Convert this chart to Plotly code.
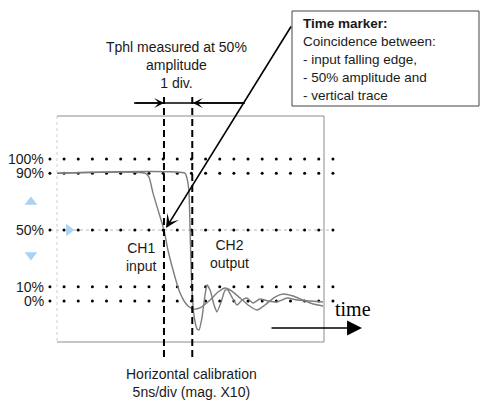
import plotly.graph_objects as go

# ---------------- data (x in divisions, y in % amplitude) ----------------
level_values = [100, 90, 50, 10, 0]
level_labels = ["100%", "90%", "50%", "10%", "0%"]
grid_dot_x = [-0.25, 0.25, 0.75, 1.25, 1.75, 2.25, 2.75, 3.25, 3.75, 4.25, 4.75,
              5.25, 5.75, 6.25, 6.75, 7.25, 7.75, 8.25, 8.75, 9.25, 9.75]

ch1_x = [0.00, 3.11, 3.25, 3.39, 3.57, 3.78, 3.92, 4.10, 4.24, 4.35, 4.49, 4.63, 4.81,
         5.05, 5.41, 5.69, 5.94, 6.18, 6.47, 6.75, 7.07, 7.35, 7.70, 7.99, 8.34, 8.69,
         9.05, 9.40]
ch1_y = [90, 90, 87.3, 76.1, 64.1, 50.0, 35.9, 21.8, 12.0, 5.6, 0.0, -3.5, -5.6,
         -4.9, 0.7, 6.3, 9.2, 7.0, 2.1, -2.8, -6.3, -2.8, 2.8, 4.9, 3.5, 0.7,
         -2.1, -3.5]

ch2_x = [0.00, 4.52, 4.59, 4.66, 4.70, 4.73, 4.77, 4.84, 4.95, 5.02, 5.12, 5.23, 5.30,
         5.41, 5.55, 5.65, 5.80, 5.94, 6.04, 6.18, 6.36, 6.54, 6.71, 6.93, 7.17, 7.46,
         7.77, 8.13, 8.48, 8.94, 9.40]
ch2_y = [90, 90, 86.6, 78.2, 52.1, 28.9, 7.7, -9.9, -19.7, -20.4, -12.0, 4.2, 11.3,
         7.7, -2.8, -7.7, -0.7, 7.7, 7.7, 2.8, -2.8, 0.7, 2.1, -1.4, 1.4, 0.0,
         -0.7, 2.1, 0.7, 0.0, -0.7]

marker_x = [-0.92, -0.92, 0.42]
marker_y = [69.7, 32.4, 50.0]
marker_symbols = ["triangle-up", "triangle-down", "triangle-right"]

time_marker_x = [3.78, 4.78]       # the two vertical dashed cursors (1 div apart)

# ---------------- geometry helpers (pixel -> axis units, layout only) ----------------
PX_DIV = 28.3
PX_PCT = 1.42
X0PX, Y0PX = 57, 301


def X(px):
    return (px - X0PX) / PX_DIV


def Y(py):
    return (Y0PX - py) / PX_PCT


FONT = "Liberation Sans, Arial, sans-serif"
TXT = "#1a1a1a"
TRACE = "#7d7d7d"

fig = go.Figure()

# faint dotted 50% line
fig.add_trace(go.Scatter(x=[X(50), X(333)], y=[50, 50], mode="lines",
                         line=dict(color="#b8b8b8", width=1, dash="dot"),
                         hoverinfo="skip"))

# dotted level lines
for lv in level_values:
    fig.add_trace(go.Scatter(x=grid_dot_x, y=[lv] * len(grid_dot_x), mode="markers",
                             marker=dict(color="black", size=3), hoverinfo="skip"))

# traces
fig.add_trace(go.Scatter(x=ch1_x, y=ch1_y, mode="lines",
                         line=dict(color=TRACE, width=1.4, shape="spline", smoothing=0.6)))
fig.add_trace(go.Scatter(x=ch2_x, y=ch2_y, mode="lines",
                         line=dict(color=TRACE, width=1.4, shape="spline", smoothing=0.5)))

# blue scope markers
fig.add_trace(go.Scatter(x=marker_x, y=marker_y, mode="markers",
                         marker=dict(color="#a9d2f5", size=11, symbol=marker_symbols),
                         hoverinfo="skip"))

shapes = []
# scope screen frame
frame_col = "#8c8c8c"
shapes.append(dict(type="line", x0=0, x1=X(324), y0=Y(116), y1=Y(116),
                   line=dict(color=frame_col, width=1)))
shapes.append(dict(type="line", x0=0, x1=X(324), y0=Y(342), y1=Y(342),
                   line=dict(color=frame_col, width=1)))
shapes.append(dict(type="line", x0=X(324), x1=X(324), y0=Y(116), y1=Y(342),
                   line=dict(color=frame_col, width=1)))
shapes.append(dict(type="line", x0=0, x1=0, y0=Y(116), y1=Y(342),
                   line=dict(color="#cfcfcf", width=1, dash="dot")))

# vertical dashed cursors
for tx in time_marker_x:
    shapes.append(dict(type="line", x0=tx, x1=tx, y0=Y(97), y1=Y(358),
                       line=dict(color="black", width=2, dash="7px,4px")))

# horizontal dimension line
shapes.append(dict(type="line", x0=X(134), x1=X(245), y0=Y(103), y1=Y(103),
                   line=dict(color="black", width=1.5)))

# time-marker text box
shapes.append(dict(type="rect", x0=X(292), x1=X(479), y0=Y(11), y1=Y(106),
                   line=dict(color="#444444", width=1), fillcolor="white"))

annotations = []

# level labels
for lv, lab in zip(level_values, level_labels):
    annotations.append(dict(x=X(46), y=lv, text=lab, showarrow=False, xanchor="right",
                            yanchor="middle", font=dict(family=FONT, size=14, color=TXT)))

# arrows
annotations.append(dict(x=time_marker_x[0], y=Y(103), ax=X(134), ay=Y(103),
                        axref="x", ayref="y", xref="x", yref="y", text="", showarrow=True,
                        arrowhead=3, arrowsize=1.1, arrowwidth=1.5, arrowcolor="black"))
annotations.append(dict(x=time_marker_x[1] + 0.02, y=Y(103), ax=X(245), ay=Y(103),
                        axref="x", ayref="y", xref="x", yref="y", text="", showarrow=True,
                        arrowhead=3, arrowsize=1.1, arrowwidth=1.5, arrowcolor="black"))
annotations.append(dict(x=X(166), y=Y(228), ax=X(292), ay=Y(25),
                        axref="x", ayref="y", xref="x", yref="y", text="", showarrow=True,
                        arrowhead=3, arrowsize=1.4, arrowwidth=1.6, arrowcolor="black"))
annotations.append(dict(x=X(362), y=Y(328), ax=X(270), ay=Y(328),
                        axref="x", ayref="y", xref="x", yref="y", text="", showarrow=True,
                        arrowhead=2, arrowsize=2.3, arrowwidth=1.3, arrowcolor="black"))

# texts
annotations.append(dict(x=X(176), y=Y(65), text="Tphl measured at 50%<br>amplitude<br>1 div.",
                        showarrow=False, xanchor="center", yanchor="middle", align="center",
                        font=dict(family=FONT, size=14, color=TXT)))
box_lines = ["<b>Time marker:</b>", "Coincidence between:", "- input falling edge,",
             "- 50% amplitude and", "- vertical trace"]
for i, ln in enumerate(box_lines):
    annotations.append(dict(x=X(301), y=Y(23 + 18 * i), text=ln, showarrow=False,
                            xanchor="left", yanchor="middle",
                            font=dict(family=FONT, size=13.5, color=TXT)))
annotations.append(dict(x=X(141), y=Y(257), text="CH1<br>input", showarrow=False,
                        xanchor="center", yanchor="middle", align="center",
                        font=dict(family=FONT, size=14, color=TXT)))
annotations.append(dict(x=X(229), y=Y(254), text="CH2<br>output", showarrow=False,
                        xanchor="center", yanchor="middle", align="center",
                        font=dict(family=FONT, size=14, color=TXT)))
annotations.append(dict(x=X(191), y=Y(383), text="Horizontal calibration<br>5ns/div (mag. X10)",
                        showarrow=False, xanchor="center", yanchor="middle", align="center",
                        font=dict(family=FONT, size=14, color=TXT)))
annotations.append(dict(x=X(333), y=Y(309), text="time", showarrow=False,
                        xanchor="left", yanchor="middle",
                        font=dict(family="Liberation Serif, Times New Roman, serif",
                                  size=20, color="black")))

fig.update_layout(
    width=481, height=403,
    margin=dict(l=0, r=0, t=0, b=0),
    paper_bgcolor="white", plot_bgcolor="white",
    showlegend=False, hovermode=False,
    shapes=shapes, annotations=annotations,
    xaxis=dict(range=[X(0), X(481)], visible=False, fixedrange=True),
    yaxis=dict(range=[Y(403), Y(0)], visible=False, fixedrange=True),
)

fig.write_html("out.html",
               config={"displayModeBar": False, "staticPlot": True},
               post_script="document.body.style.margin='0';"
                           "document.body.style.overflow='hidden';")
